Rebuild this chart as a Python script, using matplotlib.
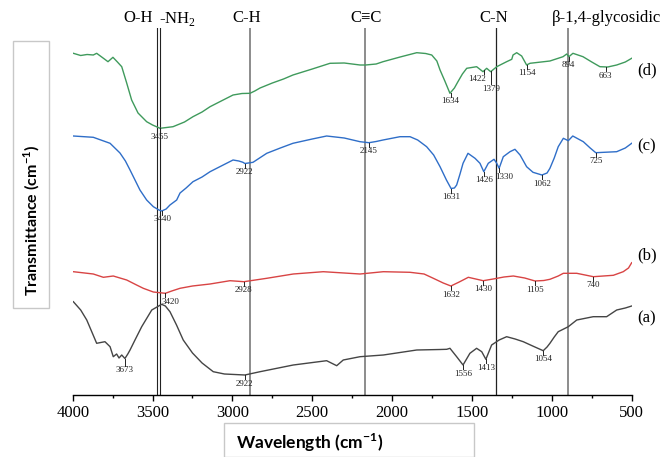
"""FTIR spectra (a)-(d) with band assignments."""

import matplotlib

matplotlib.use("Agg")
import matplotlib.pyplot as plt
import numpy as np
from matplotlib.patches import Rectangle

# ---- data (wavenumber cm-1, transmittance in arbitrary units) ----
wn_d = [3996, 3950, 3910, 3871, 3850, 3810, 3779, 3748, 3720, 3693, 3662, 3631, 3591, 3560, 3537,
        3500, 3453, 3372, 3300, 3247, 3190, 3140, 3070, 2996, 2940, 2890, 2860, 2827, 2750, 2680,
        2621, 2500, 2389, 2300, 2201, 2166, 2100, 2057, 1950, 1846, 1790, 1752, 1720, 1700, 1670,
        1638, 1610, 1588, 1560, 1533, 1471, 1431, 1408, 1383, 1345, 1283, 1251, 1243, 1220, 1189,
        1158, 1137, 1012, 930, 907, 893, 868, 805, 750, 699, 650, 594, 540, 500]
t_d = [341.7, 339.5, 340.5, 340, 341.7, 337, 333.3, 337.7, 333, 328.3, 312, 295, 282, 277, 273.3,
       270, 266.7, 268.3, 273, 278.3, 283, 288.3, 294, 300, 301.5, 301.7, 304, 307, 312, 316,
       320, 326, 331.7, 332, 330, 330, 331, 333.3, 338, 342.3, 341.5, 340, 334, 325, 314,
       301.7, 307, 313.3, 321, 326.7, 328.3, 323.3, 326.7, 323.3, 328.3, 333.3, 335.7, 340, 342.3, 339,
       330, 331.7, 334, 338.3, 341, 338.3, 341.7, 338.3, 333, 328.3, 328, 330, 333, 336.7]

wn_c = [3996, 3871, 3766, 3704, 3670, 3641, 3610, 3579, 3537, 3495, 3460, 3443, 3415, 3391, 3349,
        3328, 3290, 3247, 3190, 3140, 3070, 2996, 2960, 2934, 2922, 2900, 2871, 2830, 2785, 2700,
        2621, 2500, 2410, 2300, 2201, 2145, 2100, 2057, 1951, 1888, 1840, 1784, 1740, 1700, 1660,
        1631, 1610, 1596, 1575, 1556, 1525, 1481, 1450, 1426, 1398, 1362, 1345, 1330, 1304, 1262,
        1231, 1199, 1158, 1118, 1062, 1030, 1012, 985, 960, 928, 897, 869, 803, 760, 725, 594,
        540, 500]
t_c = [259, 257.7, 251.7, 242, 234, 225, 215, 205, 195, 188.3, 185, 184, 186, 190, 195,
       202, 207, 213.3, 218, 223.3, 229, 235, 234, 232.7, 231.5, 232, 232.7, 237, 241.7, 247,
       251.7, 256, 259, 257, 253.3, 252.3, 253.5, 255, 258.3, 258.3, 255, 248.3, 240, 228.3, 215,
       206.5, 207, 210, 221, 231.7, 241.7, 236.7, 231.7, 223.3, 231.7, 235.7, 231.7, 226.7, 238.3, 243.3,
       245.7, 240, 228.3, 222.7, 220, 222, 226.7, 237, 248.3, 256.7, 254.3, 259, 253.3, 247, 242.3, 243.3,
       247, 251.7]

wn_b = [3996, 3871, 3808, 3746, 3662, 3600, 3558, 3495, 3420, 3380, 3328, 3250, 3140, 3015, 2928,
        2785, 2619, 2431, 2201, 2055, 1888, 1800, 1742, 1680, 1632, 1580, 1523, 1430, 1367, 1300,
        1241, 1170, 1105, 1050, 1012, 960, 928, 844, 740, 615, 553, 520, 500]
t_b = [123.3, 121, 117.7, 119, 115, 110, 106.7, 103, 101.7, 104, 106.7, 109, 111, 114.3, 113.3,
       116.7, 121, 123.3, 121, 123.3, 122.7, 121, 116.7, 112, 109, 113, 117.7, 114.3, 116, 118,
       119, 117, 114, 114.5, 115.7, 119, 121.7, 121.7, 118.3, 119.7, 123.3, 127, 132.3]

wn_a = [3996, 3950, 3912, 3880, 3850, 3798, 3766, 3746, 3725, 3710, 3693, 3673, 3655, 3641, 3610,
        3568, 3505, 3443, 3420, 3391, 3350, 3308, 3250, 3190, 3120, 3050, 2922, 2827, 2619, 2410,
        2347, 2306, 2201, 2055, 1846, 1700, 1658, 1638, 1596, 1556, 1513, 1471, 1439, 1413, 1377,
        1330, 1283, 1230, 1179, 1120, 1054, 1030, 1012, 985, 960, 897, 844, 741, 657, 594, 540, 500]
t_a = [93.3, 85, 75, 63, 51.7, 53.3, 48.3, 38.3, 41, 37, 40, 36.5, 41, 45, 55,
       68.3, 85, 90.7, 89, 83.3, 70, 55, 42, 32, 23.3, 21, 20, 23.3, 30, 34.3,
       29.3, 35, 38.3, 40, 45, 45.5, 45.7, 46.7, 38.3, 30, 41.7, 46.7, 43.3, 35.7, 50,
       55, 58.3, 56, 53.3, 49, 44.3, 48, 51.7, 58, 63.3, 68.3, 75, 78.3, 78.3, 85, 87, 89]

peaks_d = [3455, 1634, 1422, 1379, 1154, 894, 663]
peaks_c = [3440, 2922, 2145, 1631, 1426, 1330, 1062, 725]
peaks_b = [3420, 2928, 1632, 1430, 1105, 740]
peaks_a = [3673, 2922, 1556, 1413, 1054]

curve_names = ["(d)", "(c)", "(b)", "(a)"]
curve_colors = ["#3f9a5c", "#2f6ec8", "#d84444", "#454545"]
name_levels = [325, 249, 140, 77]

band_names = ["O-H", "-NH$_2$", "C-H", "C\u2261C", "C-N", "\u03b2-1,4-glycosidic"]
band_pos = [3472, 3451, 2892, 2168, 1348, 896]
band_colors = ["#222222", "#222222", "#8c8c8c", "#6e6e6e", "#222222", "#8c8c8c"]
band_widths = [0.8, 0.8, 1.4, 1.1, 0.9, 1.4]

SERIF = ["Liberation Serif", "DejaVu Serif"]

plt.rcParams.update({
    "font.family": SERIF,
    "mathtext.fontset": "custom",
    "mathtext.rm": "Liberation Serif",
    "mathtext.bf": "Lato:bold",
})

fig = plt.figure(figsize=(6.6, 4.57), dpi=100)
ax = fig.add_axes([72.7 / 660, 1 - 395 / 457, 559 / 660, 367 / 457])
ax.set_xlim(4000, 500)
ax.set_ylim(0, 367)

for x, c, w in zip(band_pos, band_colors, band_widths):
    ax.axvline(x, color=c, lw=w, zorder=1)

series = [(wn_d, t_d, peaks_d), (wn_c, t_c, peaks_c), (wn_b, t_b, peaks_b), (wn_a, t_a, peaks_a)]
long_ticks = {1379: 13, 3673: 7}
shift = {1422: -5, 1330: 4, 3420: 4}
for (wn, t, peaks), color in zip(series, curve_colors):
    ax.plot(wn, t, color=color, lw=1.0, zorder=2)
    xs, ys = np.array(wn[::-1]), np.array(t[::-1])
    for p in peaks:
        y = np.interp(p, xs, ys)
        L = long_ticks.get(p, 4)
        ax.plot([p, p], [y, y - L], color="#222222", lw=0.7, zorder=3)
        ax.annotate(str(p), xy=(p, y - L), xytext=(shift.get(p, 0), -0.5),
                    textcoords="offset points", ha="center", va="top",
                    fontsize=6.5, color="#222222")

for name, lvl in zip(curve_names, name_levels):
    fig.text(637 / 660, ax.transData.transform((0, lvl))[1] / 457, name,
             fontsize=12, va="center", ha="left")

# band labels above the plot
label_x = [138, 177, 247, 366, 494, 552]
for i, (name, lx) in enumerate(zip(band_names, label_x)):
    ha = "left" if i == len(band_names) - 1 else "center"
    fig.text(lx / 660, 1 - 18.5 / 457, name, fontsize=12, ha=ha, va="center")

ax.spines[["top", "right", "left"]].set_visible(False)
ax.set_yticks([])
ax.set_xticks(np.arange(4000, 499, -500))
ax.set_xticks(np.arange(3750, 500, -500), minor=True)
ax.tick_params(axis="x", which="major", length=4.5, width=1.0, labelsize=12, pad=3)
ax.tick_params(axis="x", which="minor", length=2.5, width=1.0)
ax.spines["bottom"].set_linewidth(1.0)

# boxed axis titles
fig.add_artist(Rectangle((224 / 660, 0), 250 / 660, 1 - 423 / 457, transform=fig.transFigure,
                         fill=False, edgecolor="#c8c8c8", lw=1.0))
fig.text(309.5 / 660, 1 - 443 / 457, r"Wavelength (cm$^{\mathbf{-1}}$)", family="Lato",
         fontweight="bold", fontsize=12.5, ha="center", va="center")
fig.add_artist(Rectangle((13 / 660, 1 - 308 / 457), 36 / 660, 267 / 457, transform=fig.transFigure,
                         fill=False, edgecolor="#c8c8c8", lw=1.0))
fig.text(31.5 / 660, 1 - 220 / 457, r"Transmittance (cm$^{\mathbf{-1}}$)", family="Lato",
         fontweight="bold", fontsize=11.5, ha="center", va="center", rotation=90)

fig.savefig("out.png", dpi=100)
